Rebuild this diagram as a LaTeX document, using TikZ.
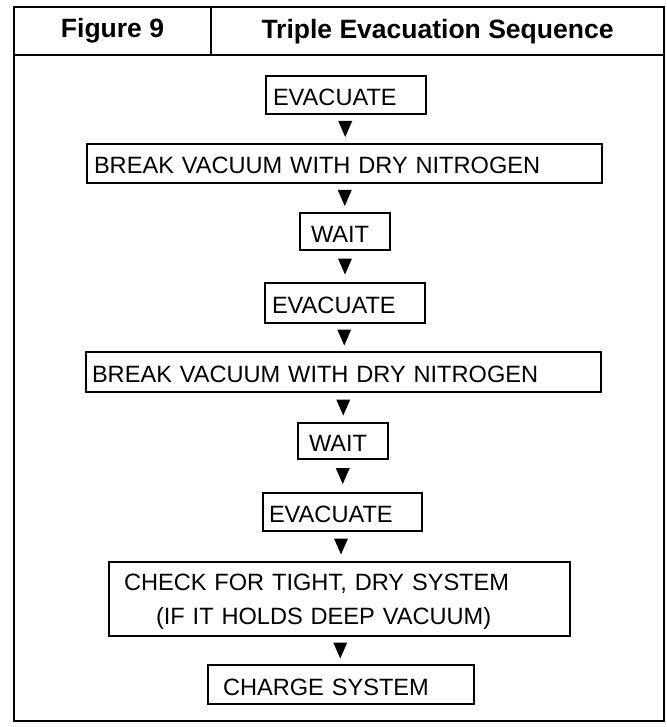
\documentclass[tikz,border=0pt]{standalone}
\usepackage{fontspec}
\setmainfont{Liberation Sans}
\begin{document}
\begin{tikzpicture}[x=1pt,y=-1pt,
  frame/.style={line width=2.8pt},
  box/.style={draw, line width=2pt, anchor=north west, inner ysep=0pt, align=left,
    font=\fontsize{23.6}{34}\selectfont},
  onebox/.style={box, text height=21pt, text depth=0pt},
  head/.style={anchor=base, inner sep=0pt, font=\fontsize{26.5}{30}\selectfont\bfseries},
  tri/.style={fill=black}
]
\useasboundingbox (0,0) rectangle (666,727);
% outer frame and header
\draw[frame] (14,7) rectangle (664,721);
\draw[frame] (14,55) -- (664,55);
\draw[frame] (211,7) -- (211,55);
\node[head] (fig) at (112.5,38) {Figure 9};
\node[head] (title) at (437.5,39) {Triple Evacuation Sequence};
% boxes
\node[onebox, inner xsep=7pt,  text width=146pt, minimum height=38pt] (e1) at (265,75)  {EVACUATE};
\node[onebox, inner xsep=7pt,  text width=501pt, minimum height=39pt] (b1) at (86,143)  {BREAK VACUUM WITH DRY NITROGEN};
\node[onebox, inner xsep=11pt, text width=68pt,  minimum height=37pt] (w1) at (299,212) {WAIT};
\node[onebox, inner xsep=7pt,  text width=146pt, minimum height=40pt] (e2) at (264,282) {EVACUATE};
\node[onebox, inner xsep=6pt,  text width=503pt, minimum height=40pt] (b2) at (85,351)  {BREAK VACUUM WITH DRY NITROGEN};
\node[onebox, inner xsep=11pt, text width=68pt,  minimum height=36pt] (w2) at (297,422) {WAIT};
\node[onebox, inner xsep=6pt,  text width=147pt, minimum height=38pt] (e3) at (262,492) {EVACUATE};
\node[box, inner xsep=15pt, text width=431pt, minimum height=74pt] (ck) at (108,561)
  {\rule{0pt}{22pt}CHECK FOR TIGHT, DRY SYSTEM\\\hspace*{32pt}(IF IT HOLDS DEEP VACUUM)};
\node[onebox, inner xsep=15pt, text width=236pt, minimum height=39pt] (ch) at (207,664) {CHARGE SYSTEM};
% connectors (filled triangles)
\foreach \a/\b/\t in {e1/b1/t1, b1/w1/t2, w1/e2/t3, e2/b2/t4, b2/w2/t5, w2/e3/t6, e3/ck/t7, ck/ch/t8}{
  \path (\a.south) -- coordinate[midway] (\t) (\b.north);
  \fill[tri] (\t) ++(-7,-8) -- ++(14,0) -- ++(-7,16) -- cycle;
}
\end{tikzpicture}
\end{document}
